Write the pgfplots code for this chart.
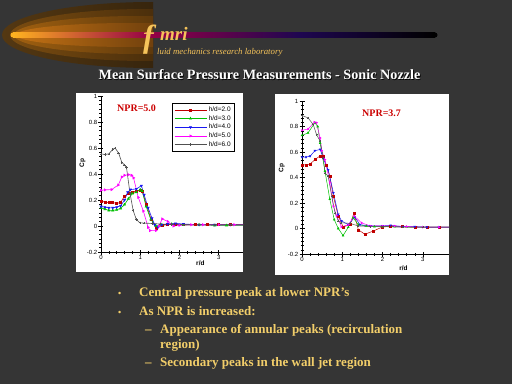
\documentclass[border=0pt]{standalone}
\usepackage{fontspec}
\setmainfont{Liberation Serif}
\setsansfont{Liberation Sans}
\usepackage{pgfplots}
\pgfplotsset{compat=1.18}
\definecolor{bg}{HTML}{353535}
\definecolor{gold}{HTML}{F2CE6A}
\definecolor{logo}{HTML}{F5C35A}
\definecolor{c2}{HTML}{C00000}
\definecolor{c3}{HTML}{00C000}
\definecolor{c4}{HTML}{1818F0}
\definecolor{c5}{HTML}{FF00FF}
\definecolor{c6}{HTML}{505050}
\definecolor{nprred}{HTML}{CC0000}
\definecolor{g1l}{RGB}{84,56,18}
\definecolor{g1r}{RGB}{26,18,8}
\definecolor{g2l}{RGB}{122,76,16}
\definecolor{g2r}{RGB}{32,20,8}
\definecolor{g3l}{RGB}{160,96,16}
\definecolor{g3r}{RGB}{42,26,8}
\definecolor{g4l}{RGB}{196,114,20}
\definecolor{g4r}{RGB}{58,32,8}
\definecolor{lorange}{RGB}{255,178,32}
\definecolor{lcrimson}{RGB}{150,0,70}
\definecolor{lnavy}{RGB}{30,6,80}
\pgfplotsset{
 cpaxis/.style={
  scale only axis, axis x line=bottom, axis y line=left,
  axis line style={-,black,line width=0.6pt},
  xmin=0, ymin=-0.2, ymax=1,
  xtick={0,1,2,3}, ytick={-0.2,0,0.2,0.4,0.6,0.8,1},
  yticklabels={-0.2,0,0.2,0.4,0.6,0.8,1},
  minor x tick num=4, minor y tick num=5,
  tick align=center, major tick length=5pt, minor tick length=3pt,
  tick style={black, line width=0.5pt},
  ticklabel style={font=\sffamily\fontsize{6}{7}\selectfont, inner sep=1pt},
  /pgf/number format/assume math mode=true,
  xlabel={r/d}, ylabel={Cp},
  every axis plot/.append style={line width=0.6pt, mark size=1.2pt},
  legend image code/.code={\draw[mark repeat=2,mark phase=2,##1] plot coordinates {(0pt,0pt) (16pt,0pt) (32pt,0pt)};},
 },
 s2/.style={color=c2, mark=square*, mark size=1pt},
 s3/.style={color=c3, mark=triangle*},
 s4/.style={color=c4, mark=triangle*, mark options={rotate=180}},
 s5/.style={color=c5, mark=triangle*, mark options={rotate=-90}},
 s6/.style={color=c6, mark=+},
}
\begin{document}
\begin{tikzpicture}[x=1pt,y=1pt]
\useasboundingbox (0,0) rectangle (512,384);
\fill[bg] (0,0) rectangle (512,384);
% logo glow
\begin{scope}
\clip (0,384) rectangle (153,300);
\shade[left color=g1l, right color=g1r] (152,349) ellipse [x radius=150, y radius=33];
\shade[left color=g2l, right color=g2r] (146,349) ellipse [x radius=136, y radius=26];
\shade[left color=g3l, right color=g3r] (138,349) ellipse [x radius=124, y radius=19];
\shade[left color=g4l, right color=g4r] (130,349) ellipse [x radius=114, y radius=12];
\end{scope}
% logo line
\shade[left color=lorange, right color=lcrimson] (13,346.5) rectangle (150,351.5);
\shade[left color=lcrimson, right color=lnavy] (150,346.5) rectangle (300,351.5);
\shade[left color=lnavy, right color=black] (300,346.5) rectangle (435,351.5);
\fill[black] (435,349) circle (2.5);
\fill[lorange] (13,349) circle (2.5);
\node[anchor=base west, inner sep=0, text=logo, font=\fontsize{32}{32}\selectfont\bfseries\itshape] at (143,337) {f};
\node[anchor=base west, inner sep=0, text=logo, font=\fontsize{19}{19}\selectfont\bfseries\itshape] at (160,344) {mri};
\node[anchor=base west, inner sep=0, text=logo, font=\fontsize{8.8}{9}\selectfont\itshape] at (157,330) {luid mechanics research laboratory};
% title
\node[anchor=base, inner sep=0, text=black, font=\fontsize{14.2}{14}\selectfont\bfseries] at (260.3,304) {Mean Surface Pressure Measurements - Sonic Nozzle};
\node[anchor=base, inner sep=0, text=white, font=\fontsize{14.2}{14}\selectfont\bfseries] at (259.5,305) {Mean Surface Pressure Measurements - Sonic Nozzle};
% panels
\fill[white] (76,112) rectangle (243,291);
\fill[white] (275,109) rectangle (449,290);
\coordinate (LA) at (101,132);
\coordinate (RA) at (302,130);
% left axis
\begin{axis}[cpaxis, at={(LA)}, anchor=south west, width=142pt, height=156pt, xmax=3.62,
  every axis y label/.style={at={(axis description cs:-0.13,0.57)}, rotate=90, anchor=center, font=\sffamily\bfseries\fontsize{6.5}{7}\selectfont},
  every axis x label/.style={at={(axis description cs:0.70,-0.07)}, anchor=center, font=\sffamily\bfseries\fontsize{6.5}{7}\selectfont},
  legend style={at={(0.5,0.955)}, anchor=north west, font=\sffamily\fontsize{6.5}{6.5}\selectfont, draw=black, line width=0.4pt, fill=white, inner xsep=2pt, inner ysep=1.5pt, row sep=-1.5pt},
  legend cell align=left]
\addplot[s2] coordinates {(0,0.19) (0.1,0.185) (0.2,0.18) (0.3,0.18) (0.4,0.175) (0.5,0.18) (0.6,0.23) (0.7,0.25) (0.8,0.26) (0.9,0.27) (1.0,0.275) (1.05,0.27) (1.15,0.17) (1.28,0.05) (1.42,-0.02) (1.55,0.005) (1.7,0.01) (1.9,0.015) (2.1,0.01) (2.4,0.01) (2.7,0.01) (3.0,0.01) (3.3,0.01) (3.7,0.01)};
\addlegendentry{h/d=2.0}
\addplot[s3] coordinates {(0,0.14) (0.1,0.13) (0.2,0.12) (0.3,0.12) (0.4,0.125) (0.5,0.135) (0.6,0.165) (0.7,0.21) (0.8,0.25) (0.9,0.26) (1.0,0.28) (1.05,0.27) (1.15,0.15) (1.27,0.05) (1.4,0.0) (1.55,0.01) (1.8,0.015) (2.1,0.01) (2.5,0.01) (2.9,0.005) (3.2,0.005) (3.7,0.005)};
\addlegendentry{h/d=3.0}
\addplot[s4] coordinates {(0,0.15) (0.1,0.145) (0.2,0.14) (0.3,0.14) (0.4,0.145) (0.5,0.155) (0.6,0.2) (0.68,0.26) (0.75,0.28) (0.9,0.285) (1.03,0.31) (1.1,0.24) (1.2,0.14) (1.3,0.06) (1.37,0.01) (1.45,-0.01) (1.55,0.01) (1.7,0.015) (1.9,0.02) (2.1,0.015) (2.5,0.01) (2.9,0.01) (3.3,0.01) (3.7,0.01)};
\addlegendentry{h/d=4.0}
\addplot[s5] coordinates {(0,0.275) (0.1,0.278) (0.27,0.28) (0.44,0.315) (0.53,0.377) (0.6,0.39) (0.7,0.395) (0.78,0.39) (0.83,0.37) (0.95,0.22) (1.08,0.115) (1.2,-0.01) (1.25,-0.035) (1.4,-0.035) (1.48,0.0) (1.56,0.055) (1.7,0.035) (1.85,0.0) (2.0,0.005) (2.3,0.01) (2.6,0.01) (3.0,0.01) (3.4,0.01) (3.7,0.01)};
\addlegendentry{h/d=5.0}
\addplot[s6] coordinates {(0,0.555) (0.1,0.55) (0.2,0.555) (0.3,0.59) (0.36,0.6) (0.45,0.56) (0.53,0.49) (0.6,0.47) (0.65,0.45) (0.74,0.25) (0.82,0.12) (0.9,0.05) (0.99,0.025) (1.1,0.022) (1.3,0.02) (1.5,0.015) (1.8,0.012) (2.1,0.01) (2.5,0.01) (2.9,0.01) (3.3,0.01) (3.7,0.01)};
\addlegendentry{h/d=6.0}
\end{axis}
% right axis
\begin{axis}[cpaxis, at={(RA)}, anchor=south west, width=147pt, height=153pt, xmax=3.65,
  every axis y label/.style={at={(axis description cs:-0.138,0.56)}, rotate=90, anchor=center, font=\sffamily\bfseries\fontsize{6.5}{7}\selectfont},
  every axis x label/.style={at={(axis description cs:0.69,-0.09)}, anchor=center, font=\sffamily\bfseries\fontsize{6.5}{7}\selectfont},
  every axis plot/.append style={line width=0.5pt, mark size=1pt}]
\addplot[s2] coordinates {(0,0.5) (0.1,0.5) (0.2,0.505) (0.32,0.54) (0.45,0.57) (0.53,0.57) (0.6,0.5) (0.69,0.41) (0.78,0.25) (0.9,0.1) (1.02,0.013) (1.19,0.03) (1.29,0.12) (1.4,-0.01) (1.56,-0.045) (1.77,-0.02) (2.0,0.013) (2.2,0.015) (2.5,0.015) (2.8,0.01) (3.1,0.01) (3.4,0.01) (3.7,0.01)};
\addplot[s3] coordinates {(0,0.73) (0.15,0.75) (0.32,0.83) (0.39,0.8) (0.45,0.67) (0.57,0.45) (0.69,0.23) (0.8,0.07) (0.9,0.0) (1.02,-0.055) (1.15,0.01) (1.27,0.084) (1.4,0.03) (1.6,0.02) (1.8,0.015) (2.0,0.015) (2.3,0.015) (2.6,0.012) (3.0,0.01) (3.4,0.01) (3.7,0.01)};
\addplot[s4] coordinates {(0,0.56) (0.1,0.56) (0.2,0.567) (0.32,0.61) (0.45,0.62) (0.53,0.55) (0.65,0.46) (0.78,0.28) (0.9,0.11) (0.98,0.06) (1.15,0.03) (1.31,0.09) (1.44,0.03) (1.7,0.02) (2.0,0.02) (2.2,0.025) (2.5,0.015) (2.8,0.015) (3.1,0.01) (3.4,0.01) (3.7,0.01)};
\addplot[s5] coordinates {(0,0.77) (0.15,0.78) (0.31,0.834) (0.36,0.83) (0.45,0.71) (0.49,0.61) (0.57,0.54) (0.69,0.36) (0.78,0.175) (0.86,0.1) (0.98,0.013) (1.15,0.03) (1.3,0.097) (1.48,0.044) (1.7,0.02) (2.0,0.02) (2.3,0.02) (2.6,0.015) (3.0,0.01) (3.4,0.01) (3.7,0.01)};
\addplot[s6] coordinates {(0,0.886) (0.15,0.868) (0.28,0.815) (0.36,0.737) (0.45,0.685) (0.53,0.554) (0.57,0.437) (0.65,0.41) (0.74,0.25) (0.82,0.123) (0.9,0.06) (0.98,0.045) (1.19,0.04) (1.4,0.02) (1.7,0.015) (2.0,0.015) (2.5,0.01) (3.0,0.01) (3.7,0.01)};
\end{axis}
% NPR labels
\node[anchor=base west, inner sep=0, text=nprred, font=\fontsize{10}{10}\selectfont\bfseries] at (117,273) {NPR=5.0};
\node[anchor=base west, inner sep=0, text=nprred, font=\fontsize{10}{10}\selectfont\bfseries] at (362,267.5) {NPR=3.7};
% bullets
\begin{scope}[every node/.style={anchor=base west, inner sep=0, text=gold, font=\fontsize{13}{13}\selectfont\bfseries}]
\node at (118,88) {\fontsize{9}{9}\selectfont\textbullet};
\node at (139,88) {Central pressure peak at lower NPR’s};
\node at (118,69) {\fontsize{9}{9}\selectfont\textbullet};
\node at (139,69) {As NPR is increased:};
\node at (145,50.7) {–};
\node at (160,50.7) {Appearance of annular peaks (recirculation};
\node at (160,35.7) {region)};
\node at (145,18) {–};
\node at (160,18) {Secondary peaks in the wall jet region};
\end{scope}
\end{tikzpicture}
\end{document}
